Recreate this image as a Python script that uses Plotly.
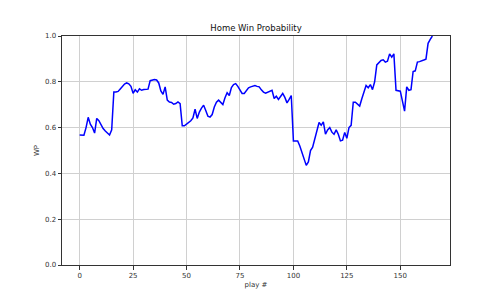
import plotly.graph_objects as go

wp = [
    0.568, 0.567, 0.567, 0.600, 0.645, 0.615, 0.600, 0.576, 0.640, 0.630,
    0.610, 0.596, 0.585, 0.575, 0.568, 0.590, 0.756, 0.756, 0.758, 0.769,
    0.780, 0.790, 0.795, 0.791, 0.780, 0.750, 0.765, 0.755, 0.769, 0.763,
    0.766, 0.768, 0.768, 0.805, 0.807, 0.810, 0.808, 0.795, 0.760, 0.745,
    0.778, 0.720, 0.712, 0.710, 0.702, 0.705, 0.712, 0.705, 0.608, 0.608,
    0.615, 0.622, 0.630, 0.642, 0.680, 0.640, 0.668, 0.685, 0.698, 0.675,
    0.650, 0.646, 0.657, 0.690, 0.711, 0.720, 0.712, 0.701, 0.730, 0.752,
    0.740, 0.775, 0.788, 0.792, 0.780, 0.762, 0.749, 0.749, 0.760, 0.774,
    0.778, 0.782, 0.784, 0.780, 0.778, 0.765, 0.755, 0.750, 0.755, 0.760,
    0.763, 0.727, 0.737, 0.723, 0.735, 0.749, 0.732, 0.708, 0.723, 0.740,
    0.542, 0.542, 0.542, 0.520, 0.492, 0.460, 0.435, 0.450, 0.500, 0.514,
    0.550, 0.576, 0.622, 0.610, 0.625, 0.571, 0.590, 0.600, 0.580, 0.571,
    0.590, 0.571, 0.542, 0.545, 0.579, 0.553, 0.600, 0.610, 0.711, 0.711,
    0.700, 0.694, 0.726, 0.760, 0.784, 0.774, 0.788, 0.766, 0.800, 0.874,
    0.885, 0.893, 0.896, 0.886, 0.890, 0.922, 0.908, 0.922, 0.763, 0.760,
    0.759, 0.716, 0.672, 0.778, 0.763, 0.766, 0.845, 0.848, 0.886, 0.888,
    0.890, 0.895, 0.899, 0.968, 0.985, 1.000,
]
plays = list(range(len(wp)))

x_ticks = [0, 25, 50, 75, 100, 125, 150]
y_ticks = [0.0, 0.2, 0.4, 0.6, 0.8, 1.0]

fig = go.Figure()
fig.add_trace(go.Scatter(x=plays, y=wp, mode="lines",
                         line=dict(color="#0000ff", width=1.5),
                         showlegend=False))

axis_common = dict(
    showline=True, linecolor="#333333", linewidth=1, mirror=True,
    ticks="outside", ticklen=3.5, tickcolor="#333333", tickwidth=1,
    showgrid=True, gridcolor="#d0d0d0", gridwidth=1, zeroline=False,
    tickfont=dict(family="DejaVu Sans", size=7, color="#333333"),
)

n = len(wp) - 1
pad = n * 0.05
fig.update_layout(
    width=500, height=300,
    margin=dict(l=62, r=50, t=36, b=33),
    paper_bgcolor="white", plot_bgcolor="white",
    title=dict(text="Home Win Probability", x=0.5, xanchor="center",
               xref="paper", y=1 - 28 / 300, yanchor="middle",
               font=dict(family="DejaVu Sans", size=8.5, color="#111111")),
    xaxis=dict(range=[-pad, n + pad], tickvals=x_ticks,
               title=dict(text="play #", standoff=3,
                          font=dict(family="DejaVu Sans", size=7, color="#333333")),
               **axis_common),
    yaxis=dict(range=[0, 1], tickvals=y_ticks, tickformat=".1f",
               title=dict(text="WP", standoff=4,
                          font=dict(family="DejaVu Sans", size=7, color="#333333")),
               **axis_common),
)

fig.write_html("out.html")
